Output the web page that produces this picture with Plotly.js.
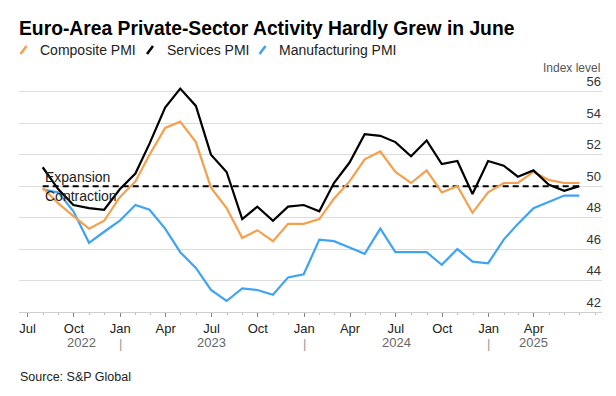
<!DOCTYPE html>
<html><head><meta charset="utf-8">
<script src="https://cdn.plot.ly/plotly-3.0.1.min.js"></script>
<style>html,body{margin:0;padding:0;background:#fff}</style>
</head><body><div id="chart" style="width:616px;height:396px"></div>
<script>
// ---- data ----
const months = ['2022-07','2022-08','2022-09','2022-10','2022-11','2022-12',
  '2023-01','2023-02','2023-03','2023-04','2023-05','2023-06','2023-07','2023-08','2023-09','2023-10','2023-11','2023-12',
  '2024-01','2024-02','2024-03','2024-04','2024-05','2024-06','2024-07','2024-08','2024-09','2024-10','2024-11','2024-12',
  '2025-01','2025-02','2025-03','2025-04','2025-05','2025-06'];
const composite = [49.9,48.9,48.1,47.3,47.8,49.3,
  50.3,52.0,53.7,54.1,52.8,49.9,48.6,46.7,47.2,46.5,47.6,47.6,
  47.9,49.2,50.3,51.7,52.2,50.9,50.2,51.0,49.6,50.0,48.3,49.6,
  50.2,50.2,50.9,50.4,50.2,50.2];
const services = [51.2,49.8,48.8,48.6,48.5,49.8,
  50.8,52.7,55.0,56.2,55.1,52.0,50.9,47.9,48.7,47.8,48.7,48.8,
  48.4,50.2,51.5,53.3,53.2,52.8,51.9,52.9,51.4,51.6,49.5,51.6,
  51.3,50.6,51.0,50.1,49.7,50.0];
const manufacturing = [49.8,49.6,48.4,46.4,47.1,47.8,
  48.8,48.5,47.3,45.8,44.8,43.4,42.7,43.5,43.4,43.1,44.2,44.4,
  46.6,46.5,46.1,45.7,47.3,45.8,45.8,45.8,45.0,46.0,45.2,45.1,
  46.6,47.6,48.6,49.0,49.4,49.4];
const seriesNames = ['Composite PMI','Services PMI','Manufacturing PMI'];
const tickMonths = ['2022-07','2022-10','2023-01','2023-04','2023-07','2023-10','2024-01','2024-04','2024-07','2024-10','2025-01','2025-04'];
const tickLabels = ['Jul','Oct','Jan','Apr','Jul','Oct','Jan','Apr','Jul','Oct','Jan','Apr'];
const yearLabels = ['2022','2023','2024','2025'];
const yearLabelPos = ['2022-10-16','2023-07-02','2024-07-02','2025-04-01'];
const yearBreaks = ['2023-01-01','2024-01-01','2025-01-01'];
const yTicks = [42,44,46,48,50,52,54,56];
const threshold = 50;

// ---- helpers ----
const ORANGE = '#f6a04d', BLACK = '#000000', BLUE = '#3fa3f3';
const FONT = 'Liberation Sans, Arial, Helvetica, sans-serif';
const W = 616, H = 396, M = {l:19, r:14, t:76, b:84};
const pw = W - M.l - M.r, ph = H - M.t - M.b;
const px = x => (x - M.l) / pw;
const py = y => (H - M.b - y) / ph;
// monthly readings are plotted at the end of their month
const monthEnd = m => { const [y, mo] = m.split('-').map(Number);
  const d = new Date(Date.UTC(y, mo, 0)); return d.toISOString().slice(0,10); };
const xDates = months.map(monthEnd);

const traces = [
  {x: xDates, y: manufacturing, name: seriesNames[2], color: BLUE},
  {x: xDates, y: composite, name: seriesNames[0], color: ORANGE},
  {x: xDates, y: services, name: seriesNames[1], color: BLACK}
].map(s => ({type:'scatter', mode:'lines', x:s.x, y:s.y, name:s.name,
  line:{color:s.color, width:2.2}, hoverinfo:'skip', showlegend:false}));

const annotations = [];
const shapes = [];
// threshold line
shapes.push({type:'line', xref:'x', yref:'y', x0:xDates[0], x1:xDates[xDates.length-1], y0:threshold, y1:threshold,
  line:{color:'#000', width:2, dash:'6px,4px'}, layer:'between'});
annotations.push({xref:'x', yref:'y', x:xDates[0], y:threshold, xanchor:'left', yanchor:'middle', yshift:9,
  text:'Expansion', showarrow:false, font:{family:FONT, size:14, color:'#222'}});
annotations.push({xref:'x', yref:'y', x:xDates[0], y:threshold, xanchor:'left', yanchor:'middle', yshift:-10,
  text:'Contraction', showarrow:false, font:{family:FONT, size:14, color:'#222'}});
// year labels and separators
yearLabels.forEach((t,i) => annotations.push({xref:'x', yref:'paper', x:yearLabelPos[i], y:0, yanchor:'middle', yshift:-30.5,
  text:t, showarrow:false, font:{family:FONT, size:13, color:'#666'}}));
yearBreaks.forEach(d => annotations.push({xref:'x', yref:'paper', x:d, y:0, yanchor:'middle', yshift:-31.5,
  text:'|', showarrow:false, font:{family:FONT, size:13, color:'#999'}}));
// y-axis unit
annotations.push({xref:'paper', yref:'paper', x:1, y:py(68), xanchor:'right', yanchor:'middle',
  text:'Index level', showarrow:false, font:{family:FONT, size:12, color:'#555'}});
// custom legend
const legendItems = [
  {name:seriesNames[0], color:ORANGE, s0:20.5, text:38},
  {name:seriesNames[1], color:BLACK, s0:147, text:165},
  {name:seriesNames[2], color:BLUE, s0:259.5, text:277}
];
legendItems.forEach(it => {
  shapes.push({type:'line', xref:'paper', yref:'paper', x0:px(it.s0), x1:px(it.s0+6), y0:py(54), y1:py(46),
    line:{color:it.color, width:2.5}});
  annotations.push({xref:'paper', yref:'paper', x:px(it.text), y:py(50), xanchor:'left', yanchor:'middle',
    text:it.name, showarrow:false, font:{family:FONT, size:14, color:'#222'}});
});
// source
annotations.push({xref:'paper', yref:'paper', x:px(18), y:py(377), xanchor:'left', yanchor:'middle',
  text:'Source: S&P Global', showarrow:false, font:{family:FONT, size:12.5, color:'#222'}});

const layout = {
  width: W, height: H, margin: M,
  paper_bgcolor:'#fff', plot_bgcolor:'#fff',
  showlegend:false,
  title:{text:'<b>Euro-Area Private-Sector Activity Hardly Grew in June</b>', xref:'container', yref:'container',
    x:19/W, xanchor:'left', y:1-28/H, yanchor:'middle', font:{family:FONT, size:19.3, color:'#000'}},
  xaxis:{type:'date', range:['2022-06-14','2025-08-14'], tickmode:'array',
    tickvals: tickMonths.map(m => m + '-01'), ticktext: tickLabels,
    ticks:'outside', ticklen:4, tickwidth:1, tickcolor:'#888',
    minor:{dtick:'M1', tick0:'2022-07-01', ticks:'outside', ticklen:2, tickwidth:1, tickcolor:'#bbb', showgrid:false},
    showline:true, linecolor:'#cfcfcf', linewidth:1, showgrid:false, zeroline:false,
    tickfont:{family:FONT, size:13, color:'#222'}, fixedrange:true},
  yaxis:{range:[42,57], side:'right', tickmode:'array', tickvals:yTicks, ticktext:yTicks.map(String),
    ticklabelposition:'inside', ticklabelshift:-10, ticklabelstandoff:-2, ticklabeloverflow:'allow',
    ticks:'', showgrid:true, gridcolor:'#dcdcdc', gridwidth:1, zeroline:false, showline:false,
    tickfont:{family:FONT, size:13, color:'#333'}, fixedrange:true},
  annotations, shapes
};
Plotly.newPlot('chart', traces, layout, {staticPlot:true, displayModeBar:false});
</script></body></html>
